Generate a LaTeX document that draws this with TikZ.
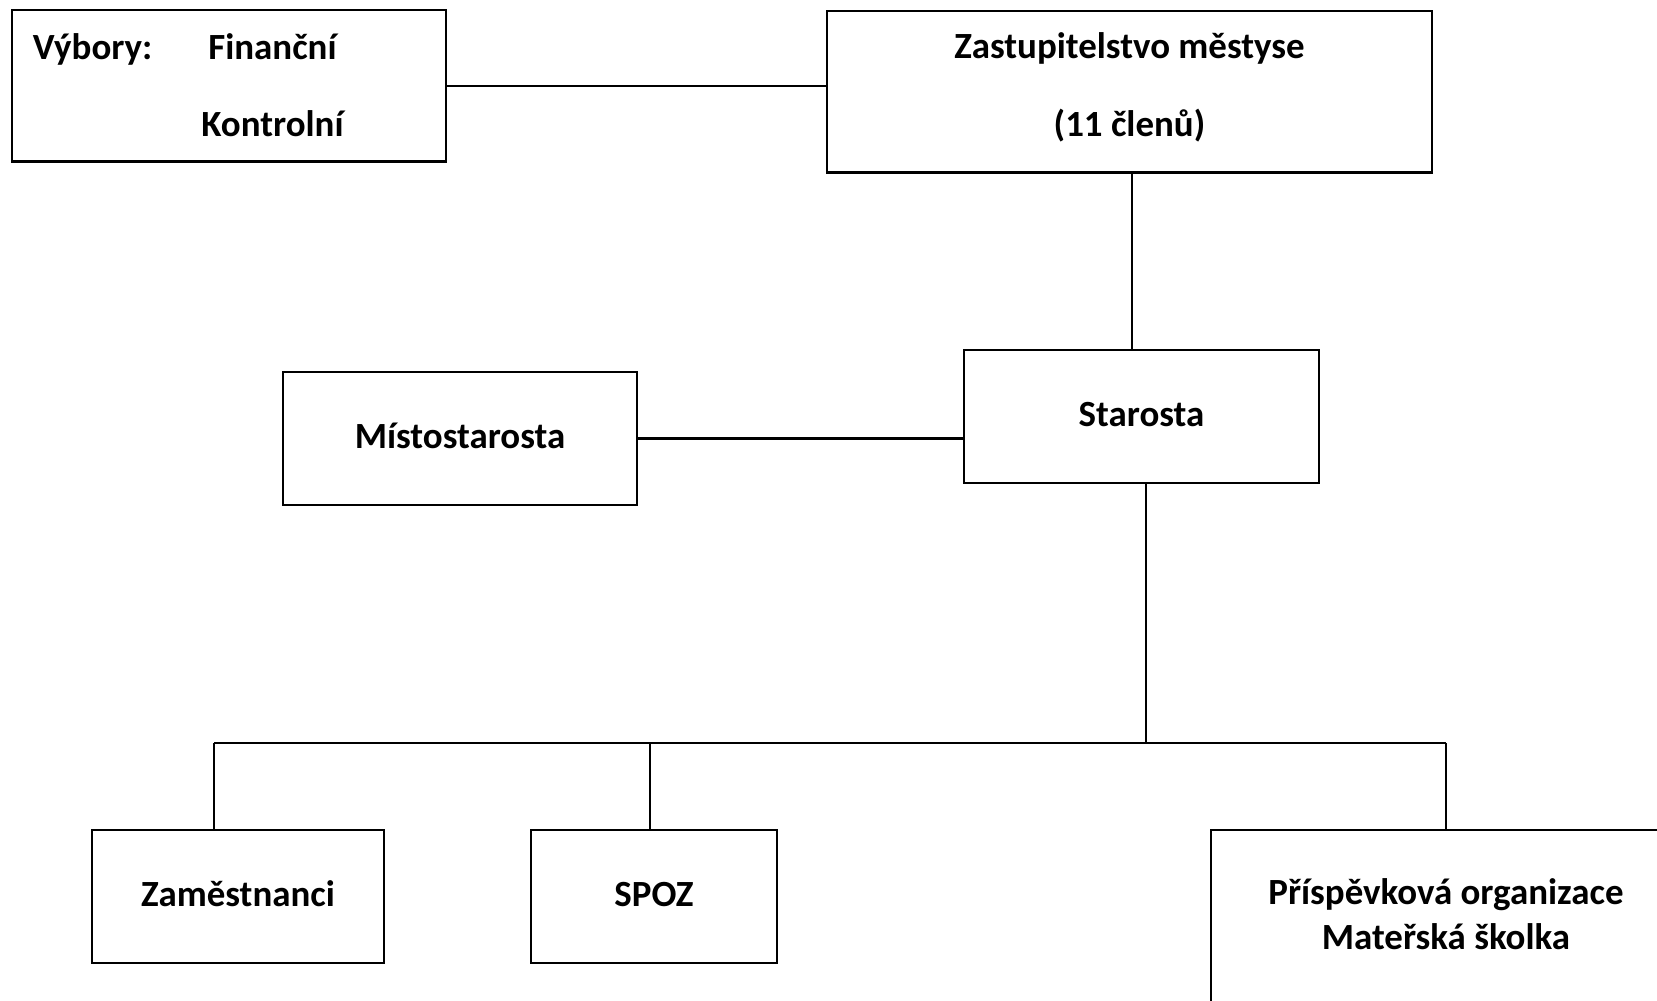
\documentclass[tikz,border=0pt]{standalone}
\usepackage{fontspec}
\setmainfont{Carlito}
\usepackage{tikz}
\usetikzlibrary{positioning}

\begin{document}
\begin{tikzpicture}[x=0.01cm, y=-0.01cm,
  unit/.style={draw, line width=0.6pt, font=\fontsize{10.5}{12.8}\selectfont\bfseries, align=center, inner sep=0pt, text depth=0.05cm},
  link/.style={line width=0.6pt}
]
\path[use as bounding box, clip] (0,0) rectangle (1657,1001);

% Boxes
\node[unit, minimum width=4.34cm, minimum height=1.51cm, align=left, text width=3.92cm, inner xsep=0.21cm,
      text depth=, font=\fontsize{10.5}{21.9}\selectfont\bfseries] (vybory) at (229,86)
  {\smash{\raisebox{-0.06cm}{\begin{tabular}{@{}l@{\hspace{0.49cm}}c@{}}Výbory: & Finanční\\ & Kontrolní\end{tabular}}}};
\node[unit, minimum width=6.05cm, minimum height=1.61cm, text depth=0.15cm,
      font=\fontsize{10.5}{22.4}\selectfont\bfseries] (zast) at (1129.5,92)
  {Zastupitelstvo městyse\\(11 členů)};
\node[unit, minimum width=3.55cm, minimum height=1.33cm] (staro) at (1141.5,416.5) {Starosta};
\node[unit, minimum width=3.54cm, minimum height=1.33cm] (misto) at (460,438.5) {Místostarosta};
\node[unit, minimum width=2.92cm, minimum height=1.33cm] (zam)   at (238,896.5) {Zaměstnanci};
\node[unit, minimum width=2.45cm, minimum height=1.33cm] (spoz)  at (654,896.5) {SPOZ};
\node[unit, minimum width=4.70cm, minimum height=1.74cm] (po)    at (1446,917) {Příspěvková organizace\\Mateřská školka};

% Connection points
\coordinate (tstar) at (1132,350);
\coordinate (bstar) at (1146,743);
\coordinate (bzam)  at (214,743);
\coordinate (bspoz) at (650,743);
\coordinate (bpo)   at (1446,743);

% Lines
\draw[link] (vybory.east) -- (vybory.east -| zast.west);
\draw[link] (tstar |- zast.south) -- (tstar |- staro.north);
\draw[link] (misto.east) -- (misto.east -| staro.west);
\draw[link] (bstar |- staro.south) -- (bstar);
\draw[link] (bzam) -- (bpo);
\draw[link] (bzam) -- (bzam |- zam.north);
\draw[link] (bspoz) -- (bspoz |- spoz.north);
\draw[link] (bpo) -- (po.north);
\end{tikzpicture}
\end{document}
